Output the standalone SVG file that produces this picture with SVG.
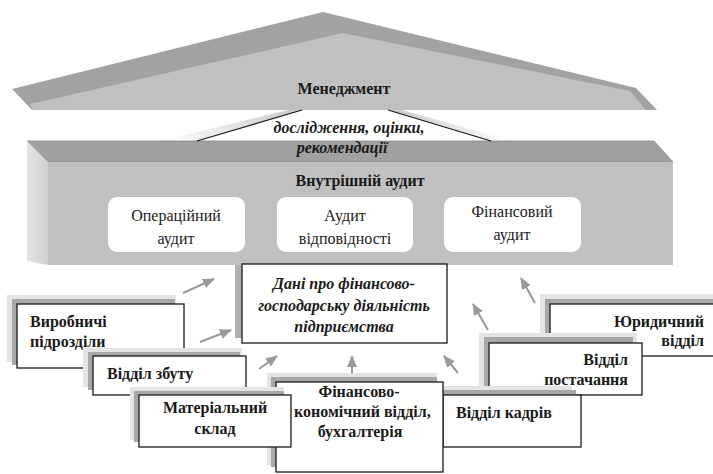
<svg xmlns="http://www.w3.org/2000/svg" width="713" height="474" viewBox="0 0 713 474">
<defs>
<style>
text{font-family:'Liberation Serif','Times New Roman','DejaVu Serif',serif;fill:#1a1a1a;font-size:16px}
.b{font-weight:bold}
.bi{font-weight:bold;font-style:italic}
.box{fill:#fff;stroke:#1a1a1a;stroke-width:1.3}
.sh1{fill:#e4e4e4}
.sh2{fill:#a8a8a8}
.inner{fill:#fff}
.arr{stroke:#999;stroke-width:2;fill:none;marker-end:url(#ah)}
</style>
<marker id="ah" markerUnits="userSpaceOnUse" markerWidth="12" markerHeight="10" refX="11" refY="5" orient="auto">
<path d="M0,0 L12,5 L0,10 z" fill="#999"/>
</marker>
<linearGradient id="gl" x1="0" y1="0" x2="1" y2="0">
<stop offset="0" stop-color="#fff"/>
<stop offset="1" stop-color="#c8c8c8"/>
</linearGradient>
<linearGradient id="gr" x1="0" y1="0" x2="1" y2="0">
<stop offset="0" stop-color="#c8c8c8"/>
<stop offset="1" stop-color="#fff"/>
</linearGradient>
<linearGradient id="gside" x1="0" y1="0" x2="1" y2="0">
<stop offset="0" stop-color="#e4e4e4"/>
<stop offset="1" stop-color="#cfcfcf"/>
</linearGradient>
</defs>

<g id="management">
<polygon points="12,89 323,12 636,88 657,110 32,110" fill="#a2a2a2"/>
<polygon points="30,104 343,33 630,91 646,110 33,110" fill="#c0c0c0"/>
<text class="b" x="344" y="94" text-anchor="middle">Менеджмент</text>
</g>

<g id="link-shading">
<polygon points="302,110 197,141 160,141 288,110" fill="url(#gl)"/>
<polygon points="388,110 491,141 512,141 402,110" fill="url(#gr)"/>
</g>

<g id="internal-audit">
<polygon points="27,141 654,141 673,162 48,162" fill="#a0a0a0" stroke="#888" stroke-width="0.8"/>
<polygon points="27,141 48,162 48,265 27,261" fill="url(#gside)"/>
<rect x="48" y="162" width="625" height="103" fill="#c0c0c0"/>
<text class="b" x="360" y="186" text-anchor="middle">Внутрішній аудит</text>
</g>

<g id="connectors">
<line x1="302" y1="110" x2="197" y2="141" stroke="#1a1a1a" stroke-width="1.3"/>
<line x1="388" y1="110" x2="491" y2="141" stroke="#1a1a1a" stroke-width="1.3"/>
<line class="arr" x1="183" y1="293" x2="214" y2="279"/>
<line class="arr" x1="200" y1="342" x2="231" y2="330"/>
<line class="arr" x1="259" y1="369" x2="277" y2="356"/>
<line class="arr" x1="352" y1="376" x2="352" y2="356"/>
<line class="arr" x1="458" y1="373" x2="444" y2="356"/>
<line class="arr" x1="488" y1="330" x2="473" y2="304"/>
<line class="arr" x1="535" y1="303" x2="521" y2="278"/>
</g>

<g id="research-label">
<text class="bi" x="349" y="133" text-anchor="middle">дослідження, оцінки,</text>
<text class="bi" x="342" y="153" text-anchor="middle">рекомендації</text>
</g>

<g id="operational-audit">
<rect class="inner" x="108" y="197" width="137" height="55" rx="9"/>
<text x="176" y="221" text-anchor="middle">Операційний</text>
<text x="176" y="244" text-anchor="middle">аудит</text>
</g>
<g id="compliance-audit">
<rect class="inner" x="277" y="197" width="136" height="55" rx="9"/>
<text x="345" y="221" text-anchor="middle">Аудит</text>
<text x="345" y="244" text-anchor="middle">відповідності</text>
</g>
<g id="financial-audit">
<rect class="inner" x="444" y="197" width="137" height="55" rx="9"/>
<text x="512" y="217" text-anchor="middle">Фінансовий</text>
<text x="512" y="240" text-anchor="middle">аудит</text>
</g>

<g id="data">
<rect x="235" y="265" width="8" height="73" fill="#b0b0b0"/>
<rect class="box" x="242" y="264" width="205" height="79"/>
<text class="bi" x="344" y="289" text-anchor="middle">Дані про фінансово-</text>
<text class="bi" x="344" y="311" text-anchor="middle">господарську діяльність</text>
<text class="bi" x="344" y="332" text-anchor="middle">підприємства</text>
</g>

<g id="production">
<rect class="sh1" x="7" y="295" width="169" height="67"/>
<rect class="sh2" x="12" y="299" width="163" height="66"/>
<rect class="box" x="17" y="304" width="167" height="64"/>
<text class="b" x="30" y="327">Виробничі</text>
<text class="b" x="30" y="347">підрозділи</text>
</g>

<g id="sales">
<rect class="sh1" x="83" y="348" width="159" height="39"/>
<rect class="sh2" x="88" y="352" width="152" height="38"/>
<rect class="box" x="93" y="356" width="153" height="39"/>
<text class="b" x="107" y="379">Відділ збуту</text>
</g>

<g id="legal">
<rect class="sh1" x="540" y="294" width="180" height="53"/>
<rect class="sh2" x="545" y="299" width="180" height="52"/>
<rect class="box" x="550" y="304" width="180" height="52"/>
<text class="b" x="704" y="327" text-anchor="end">Юридичний</text>
<text class="b" x="704" y="346" text-anchor="end">відділ</text>
</g>

<g id="supply">
<rect class="sh1" x="479" y="333" width="158" height="54"/>
<rect class="sh2" x="484" y="337" width="149" height="53"/>
<rect class="box" x="489" y="343" width="153" height="52"/>
<text class="b" x="628" y="365" text-anchor="end">Відділ</text>
<text class="b" x="628" y="385" text-anchor="end">постачання</text>
</g>

<g id="hr">
<rect class="sh1" x="434" y="386" width="138" height="53"/>
<rect class="sh2" x="438" y="390" width="138" height="52"/>
<rect class="box" x="443" y="395" width="138" height="52"/>
<text class="b" x="456" y="418">Відділ кадрів</text>
</g>

<g id="finance-dept">
<rect class="sh1" x="267" y="373" width="170" height="92"/>
<rect class="sh2" x="271" y="377" width="166" height="90"/>
<rect class="box" x="276" y="382" width="167" height="90"/>
<text class="b" x="359" y="397" text-anchor="middle">Фінансово-</text>
<text class="b" x="294" y="417">кономічний відділ,</text>
<text class="b" x="360" y="437" text-anchor="middle">бухгалтерія</text>
</g>

<g id="warehouse">
<rect class="sh1" x="130" y="387" width="154" height="53"/>
<rect class="sh2" x="134" y="391" width="150" height="51"/>
<rect class="box" x="139" y="395" width="152" height="52"/>
<text class="b" x="215" y="413" text-anchor="middle">Матеріальний</text>
<text class="b" x="215" y="434" text-anchor="middle">склад</text>
</g>
</svg>
